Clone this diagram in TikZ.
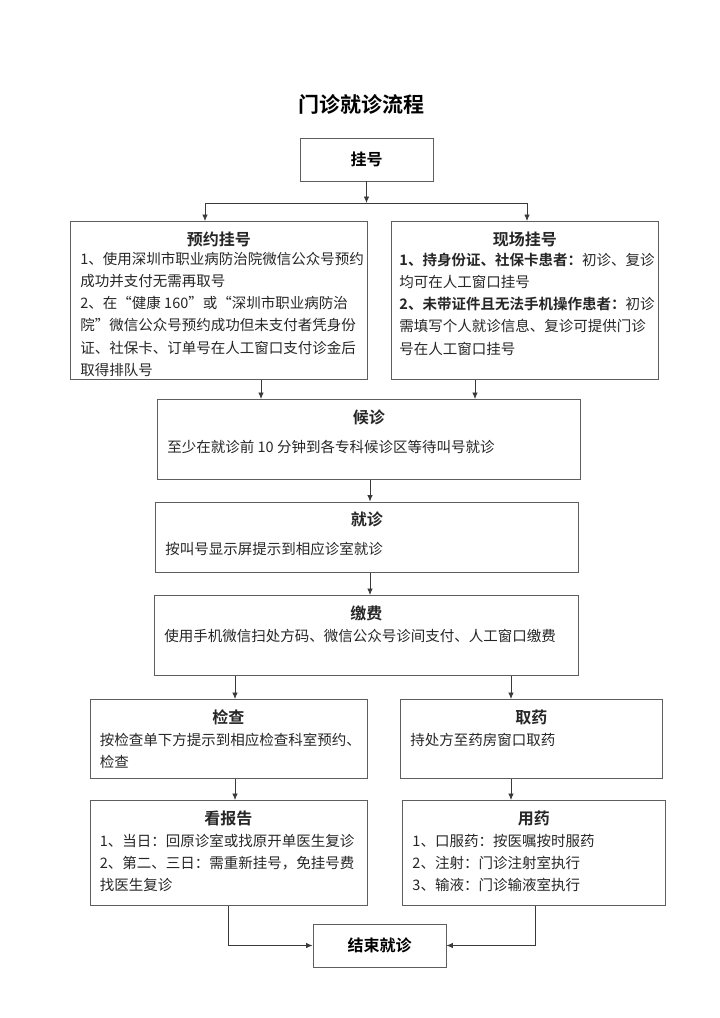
\documentclass[tikz,border=0pt]{standalone}
\usepackage{fontspec}
\setmainfont{Noto Sans CJK SC}[BoldFont={Noto Sans CJK SC Bold}]
\usetikzlibrary{arrows.meta}

\definecolor{framegray}{HTML}{5E5E5E}
\definecolor{linegray}{HTML}{3A3A3A}

\newcommand{\bodyfont}{\fontsize{14.5}{22.2}\selectfont}
\newcommand{\headfont}{\fontsize{16}{22}\selectfont\bfseries}
\newcommand{\cardhead}[1]{{\centering\headfont #1\par}}
\newcommand{\cardtext}[3]{\parbox[t][#2][t]{#1}{\bodyfont\hfuzz=30pt #3}}
\newcommand{\openq}{\makebox[14.5pt][r]{“}}
\newcommand{\closeq}{\makebox[14.5pt][l]{”}}

\begin{document}
\begin{tikzpicture}[x=1pt,y=-1pt,>={Latex[length=6.5pt,width=5.5pt]},
  card/.style={draw=framegray,line width=0.9pt,inner xsep=10pt,inner ysep=10pt,
    anchor=north west,text=black!85},
  endbox/.style={draw=framegray,line width=0.9pt,minimum width=133pt,
    minimum height=43pt,font=\headfont},
  link/.style={draw=linegray,line width=0.8pt}]
  \useasboundingbox[fill=white] (0,0) rectangle (720,1018);

  % title and start
  \node (title) at (361,104) {\fontsize{21}{24}\selectfont\bfseries 门诊就诊流程};
  \node[endbox] (guahao) at (366.5,159.5) {挂号};

  % registration
  \node[card] (yuyue) at (70,221) {\cardtext{277pt}{138pt}{%
    \cardhead{预约挂号}\vspace{-3pt}
    1、使用深圳市职业病防治院微信公众号预约\\
    成功并支付无需再取号\\
    2、在\openq 健康 160\closeq 或\openq 深圳市职业病防治\\
    院\closeq 微信公众号预约成功但未支付者凭身份\\
    证、社保卡、订单号在人工窗口支付诊金后\\
    取得排队号}};
  \node[card,inner xsep=8pt] (xianchang) at (391,221) {\cardtext{251pt}{138pt}{%
    \cardhead{现场挂号}\vspace{-2pt}
    {\bfseries 1、持身份证、社保卡患者：}初诊、复诊\\
    均可在人工窗口挂号\\
    {\bfseries 2、未带证件且无法手机操作患者：}初诊\\
    需填写个人就诊信息、复诊可提供门诊\\
    号在人工窗口挂号}};

  % waiting, visit, payment
  \node[card] (houzhen) at (157,399) {\cardtext{403pt}{60pt}{%
    \cardhead{候诊}\vspace{7pt}
    至少在就诊前 10 分钟到各专科候诊区等待叫号就诊}};
  \node[card] (jiuzhen) at (155,501.5) {\cardtext{403pt}{50.5pt}{%
    \cardhead{就诊}\vspace{7pt}
    按叫号显示屏提示到相应诊室就诊}};
  \node[card] (jiaofei) at (154,595) {\cardtext{404pt}{60pt}{%
    \cardhead{缴费}
    使用手机微信扫处方码、微信公众号诊间支付、人工窗口缴费}};

  % two branches
  \node[card] (jiancha) at (89.5,699) {\cardtext{257pt}{59pt}{%
    \cardhead{检查}
    按检查单下方提示到相应检查科室预约、\\
    检查}};
  \node[card] (quyao) at (400,699) {\cardtext{242pt}{59pt}{%
    \cardhead{取药}
    持处方至药房窗口取药}};
  \node[card] (kanbaogao) at (89.5,800) {\cardtext{257pt}{85pt}{%
    \cardhead{看报告}
    1、当日：回原诊室或找原开单医生复诊\\
    2、第二、三日：需重新挂号，免挂号费\\
    找医生复诊}};
  \node[card] (yongyao) at (402,800) {\cardtext{243pt}{85pt}{%
    \cardhead{用药}
    1、口服药：按医嘱按时服药\\
    2、注射：门诊注射室执行\\
    3、输液：门诊输液室执行}};
  \node[endbox] (jieshu) at (379.5,945.5) {结束就诊};

  % guide columns for the connectors
  \coordinate (brL) at (205,203);
  \coordinate (brR) at (527,203);
  \coordinate (colA) at (261,0);
  \coordinate (colB) at (475,0);
  \coordinate (colM) at (370,0);
  \coordinate (colC) at (235,0);
  \coordinate (colD) at (511,0);
  \coordinate (colE) at (228,0);
  \coordinate (colF) at (535,0);

  \draw[link,->] (guahao.south) -- (guahao.south |- brL);
  \draw[link] (brL) -- (brR);
  \draw[link,->] (brL) -- (brL |- yuyue.north);
  \draw[link,->] (brR) -- (brR |- xianchang.north);
  \draw[link,->] (yuyue.south -| colA) -- (houzhen.north -| colA);
  \draw[link,->] (xianchang.south -| colB) -- (houzhen.north -| colB);
  \draw[link,->] (houzhen.south -| colM) -- (jiuzhen.north -| colM);
  \draw[link,->] (jiuzhen.south -| colM) -- (jiaofei.north -| colM);
  \draw[link,->] (jiaofei.south -| colC) -- (jiancha.north -| colC);
  \draw[link,->] (jiaofei.south -| colD) -- (quyao.north -| colD);
  \draw[link,->] (jiancha.south -| colC) -- (kanbaogao.north -| colC);
  \draw[link,->] (quyao.south -| colD) -- (yongyao.north -| colD);
  \draw[link,->] (kanbaogao.south -| colE) |- (jieshu.west);
  \draw[link,->] (yongyao.south -| colF) |- (jieshu.east);
\end{tikzpicture}
\end{document}
